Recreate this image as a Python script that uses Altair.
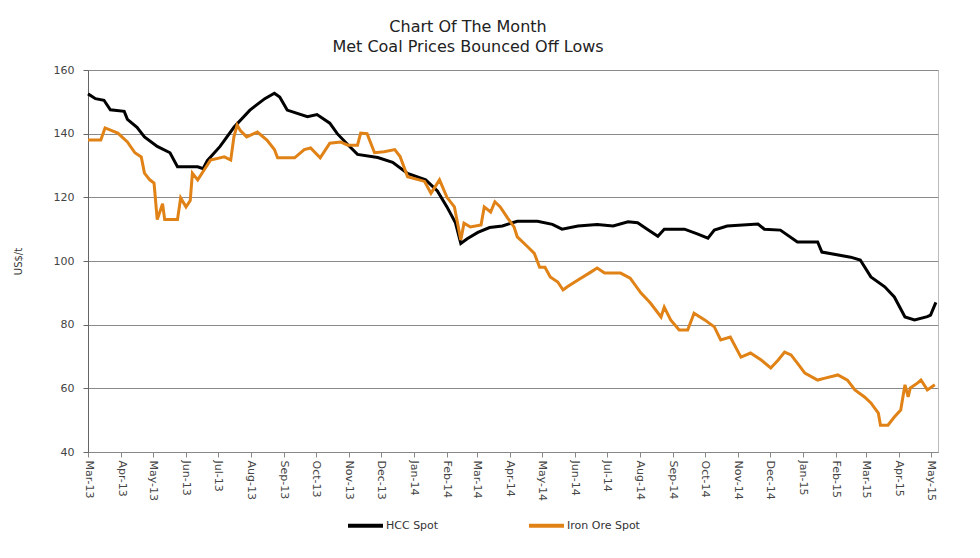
import altair as alt
import pandas as pd

hcc_dates = ["2013-03-01","2013-03-08","2013-03-16","2013-03-22","2013-04-04","2013-04-07","2013-04-16","2013-04-23",
             "2013-05-05","2013-05-17","2013-05-24","2013-06-12","2013-06-17","2013-06-21","2013-07-03","2013-07-16",
             "2013-07-31","2013-08-14","2013-08-23","2013-08-28","2013-09-04","2013-09-23","2013-10-02","2013-10-14",
             "2013-10-21","2013-10-31","2013-11-09","2013-11-28","2013-12-12","2013-12-26","2014-01-12","2014-01-23",
             "2014-02-01","2014-02-09","2014-02-14","2014-02-20","2014-03-02","2014-03-13","2014-03-25","2014-04-08",
             "2014-04-27","2014-05-11","2014-05-20","2014-06-04","2014-06-22","2014-07-07","2014-07-21","2014-07-30",
             "2014-08-08","2014-08-18","2014-08-24","2014-09-12","2014-09-24","2014-10-04","2014-10-10","2014-10-22",
             "2014-11-20","2014-11-26","2014-12-11","2014-12-27","2015-01-15","2015-01-19","2015-02-15","2015-02-24",
             "2015-03-06","2015-03-19","2015-03-28","2015-04-07","2015-04-16","2015-04-28","2015-05-01","2015-05-06"]
hcc_values = [152.5,151,150.5,147.5,147,144.5,142,139,
              136,134,129.6,129.6,129,131.5,136,142,
              147.4,151,152.7,151.5,147.4,145.3,146,143.3,
              140,136.5,133.5,132.5,131,127.5,125.5,122,
              117,112,105.5,107,109,110.5,111,112.5,
              112.5,111.5,110,111,111.5,111,112.3,112,
              110,107.8,110,110,108.5,107.2,109.7,111,
              111.6,110,109.7,106,106,102.8,101.2,100.3,
              95,91.9,88.7,82.4,81.5,82.5,83,87]

ore_dates = ["2013-03-01","2013-03-13","2013-03-17","2013-03-29","2013-04-07","2013-04-14","2013-04-20","2013-04-23",
             "2013-04-28","2013-05-02","2013-05-05","2013-05-10","2013-05-12","2013-05-24","2013-05-27","2013-06-01",
             "2013-06-05","2013-06-07","2013-06-12","2013-06-18","2013-06-24","2013-07-07","2013-07-13","2013-07-16",
             "2013-07-19","2013-07-22","2013-07-28","2013-08-07","2013-08-16","2013-08-23","2013-08-26","2013-09-11",
             "2013-09-20","2013-09-26","2013-10-05","2013-10-14","2013-10-24","2013-10-31","2013-11-09","2013-11-12",
             "2013-11-18","2013-11-25","2013-12-04","2013-12-14","2013-12-19","2013-12-26","2014-01-11","2014-01-17",
             "2014-01-25","2014-02-01","2014-02-08","2014-02-14","2014-02-17","2014-02-23","2014-03-05","2014-03-08",
             "2014-03-14","2014-03-18","2014-03-23","2014-03-30","2014-04-05","2014-04-08","2014-04-18","2014-04-24",
             "2014-04-29","2014-05-04","2014-05-09","2014-05-16","2014-05-21","2014-05-25","2014-06-04","2014-06-16",
             "2014-06-22","2014-06-29","2014-07-14","2014-07-23","2014-08-02","2014-08-11","2014-08-21","2014-08-24",
             "2014-08-30","2014-09-07","2014-09-15","2014-09-21","2014-10-01","2014-10-10","2014-10-16","2014-10-25",
             "2014-11-04","2014-11-13","2014-11-23","2014-12-02","2014-12-09","2014-12-15","2014-12-21","2014-12-27",
             "2015-01-03","2015-01-15","2015-01-22","2015-02-03","2015-02-12","2015-02-19","2015-02-28","2015-03-06",
             "2015-03-13","2015-03-15","2015-03-22","2015-03-28","2015-04-03","2015-04-07","2015-04-10","2015-04-12",
             "2015-04-19","2015-04-22","2015-04-28","2015-05-05"]
ore_values = [138,138,141.8,140.2,137.4,134,132.7,127.6,
              125.5,124.5,113,118,113,113,119.8,117,
              119,127.6,125.5,128.6,131.7,132.7,131.7,139,
              142.7,141,139,140.5,138,135,132.4,132.4,
              135,135.5,132.4,137,137.4,136.4,136.4,140.2,
              140,134,134.3,135,132.8,126.5,125,121.3,
              125.5,120,117,106.6,111.9,110.7,111.3,117,
              115.4,118.6,117,113.5,110.7,107.6,104.4,102.4,
              98,98,95,93.4,90.9,91.9,94,96.5,
              97.8,96.2,96.2,94.6,90,86.8,82.4,85.5,
              81.5,78.3,78.3,83.6,81.5,79.3,75.2,76.1,
              69.8,71.1,68.9,66.4,68.9,71.4,70.5,67.9,
              64.8,62.6,63.2,64.2,62.6,59.5,57.3,55.4,
              52.2,48.4,48.4,51,53.2,61.1,57.3,60.1,
              61.7,62.6,59.5,61.1]

series_names = ["HCC Spot", "Iron Ore Spot"]
series_colors = ["#000000", "#E08216"]
y_ticks = [40, 60, 80, 100, 120, 140, 160]

df = pd.concat([
    pd.DataFrame({"date": hcc_dates, "value": hcc_values, "series": series_names[0]}),
    pd.DataFrame({"date": ore_dates, "value": ore_values, "series": series_names[1]}),
])

font = "DejaVu Sans"

chart = alt.Chart(df).mark_line(strokeWidth=3, interpolate="linear").encode(
    x=alt.X("date:T",
            scale=alt.Scale(type="utc", domain=["2013-03-01", "2015-05-08"]),
            axis=alt.Axis(title=None,
                          labelExpr="utcFormat(datum.value, '%b-%y')",
                          tickCount=alt.TickCount(interval="month", step=1),
                          labelAngle=90, labelAlign="left", labelBaseline="middle",
                          labelFontSize=11, labelColor="#444", labelPadding=3,
                          grid=False, domainColor="#888", tickColor="#888", tickSize=5,
                          labelOverlap=False)),
    y=alt.Y("value:Q",
            scale=alt.Scale(domain=[40, 160], nice=False, zero=False),
            axis=alt.Axis(title="US$/t", values=y_ticks, labelFontSize=11, labelColor="#444",
                          titleFontSize=10, titleFontWeight="normal", titleColor="#333",
                          titlePadding=30, gridColor="#8a8a8a", gridWidth=1,
                          domainColor="#666", tickColor="#666", tickSize=5, labelPadding=9)),
    color=alt.Color("series:N",
                    scale=alt.Scale(domain=series_names, range=series_colors),
                    legend=alt.Legend(title=None, orient="none", direction="horizontal",
                                      legendX=258, legendY=436,
                                      symbolType="stroke", symbolStrokeWidth=4, symbolSize=1225,
                                      labelFontSize=11, labelColor="#333", columnPadding=82,
                                      labelOffset=1)),
).properties(
    width=850, height=382,
    padding={"left": 5, "top": 11, "right": 5, "bottom": 5},
    title=alt.Title(["Chart Of The Month", "Met Coal Prices Bounced Off Lows"],
                    fontSize=16, fontWeight="normal", color="#222", font=font,
                    anchor="middle", dx=-45, offset=9, lineHeight=20),
).configure(font=font).configure_view(stroke="#bbbbbb", strokeWidth=1)

chart.save("out.html", embed_options={"renderer": "svg", "actions": False})
